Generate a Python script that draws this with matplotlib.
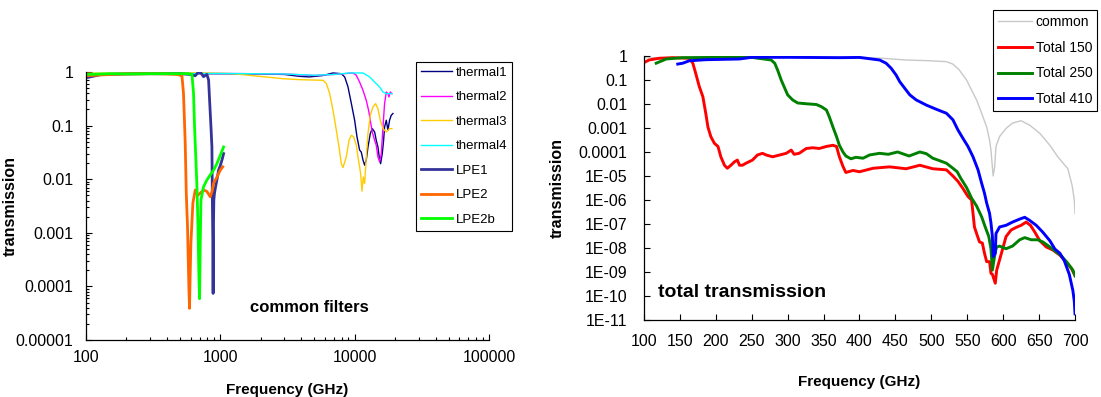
import matplotlib

matplotlib.use("Agg")
import matplotlib.pyplot as plt
from matplotlib.ticker import FixedLocator, LogLocator, NullFormatter, NullLocator

plt.rcParams["font.family"] = ["Liberation Sans", "DejaVu Sans"]

# ---- left panel: common filters (frequency in GHz, transmission) ----
THERMAL1_F = [100, 200, 400, 700, 1000, 2000, 3000, 3900, 4600, 5800, 6900, 7960, 8430, 8920, 9450,
              10000, 10410, 10890, 11210, 11540, 11870, 12210, 12570, 13080, 13530, 14090, 14490,
              14910, 15350, 15610, 16060, 16430, 16710, 17200, 17700, 18200, 18730, 19280]
THERMAL1_T = [0.90, 0.93, 0.93, 0.93, 0.93, 0.92, 0.90, 0.83, 0.81, 0.86, 0.96, 0.93, 0.81, 0.53, 0.26,
              0.126, 0.062, 0.035, 0.032, 0.0228, 0.0183, 0.0228, 0.040, 0.071, 0.088, 0.076, 0.053,
              0.040, 0.0228, 0.0195, 0.030, 0.053, 0.094, 0.126, 0.082, 0.126, 0.156, 0.168]

THERMAL2_F = [100, 300, 1000, 3000, 5000, 7000, 9720, 10290, 10890, 11540, 12210, 12700, 13080,
              13530, 14090, 14490, 14910, 15350, 15790, 16250, 16710, 17200, 17700, 18000, 18420, 18950]
THERMAL2_T = [0.92, 0.93, 0.94, 0.92, 0.86, 0.90, 0.96, 0.87, 0.65, 0.455, 0.296, 0.193, 0.126,
              0.076, 0.053, 0.043, 0.026, 0.0211, 0.030, 0.094, 0.257, 0.424, 0.395, 0.342, 0.424, 0.395]

THERMAL3_F = [100, 300, 700, 1250, 1970, 2930, 3900, 5820, 6160, 6520, 6900, 7310, 7650, 7960, 8190,
              8670, 9080, 9450, 9830, 10290, 10590, 10890, 11080, 11340, 11600, 11870, 12210, 12570,
              13080, 13690, 14330, 14910, 15520, 16250, 17200, 18200, 18950]
THERMAL3_T = [0.95, 0.96, 0.97, 0.93, 0.83, 0.75, 0.72, 0.70, 0.61, 0.395, 0.193, 0.082, 0.040, 0.0195,
              0.0165, 0.026, 0.053, 0.066, 0.062, 0.043, 0.026, 0.017, 0.0128, 0.0060, 0.011, 0.0083,
              0.026, 0.071, 0.156, 0.223, 0.257, 0.207, 0.126, 0.088, 0.076, 0.088, 0.088]

THERMAL4_F = [100, 300, 1000, 3000, 5000, 7000, 9180, 11540, 12930, 14090, 15350, 16250, 17200,
              18200, 18950]
THERMAL4_T = [0.93, 0.94, 0.94, 0.92, 0.87, 0.90, 0.96, 0.96, 0.81, 0.65, 0.526, 0.424, 0.395,
              0.395, 0.395]

LPE1_F = [100, 130, 200, 300, 500, 600, 650, 689, 720, 750, 795, 818, 832, 852, 866, 872, 880,
          884, 889, 895, 905, 922, 945, 971, 1000, 1030, 1058]
LPE1_T = [0.78, 0.90, 0.92, 0.93, 0.93, 0.90, 0.85, 1.0, 0.95, 0.82, 0.90, 0.71, 0.30, 0.095,
          0.040, 0.0054, 6.4e-4, 7.4e-5, 1.3e-3, 4.1e-3, 5.5e-3, 0.0072, 0.010, 0.0148, 0.018,
          0.023, 0.030]

LPE2_F = [100, 150, 200, 300, 400, 480, 518, 532, 548, 558, 570, 584, 590, 596, 604, 625, 651,
          680, 709, 750, 795, 842, 870, 892, 945, 1000, 1043]
LPE2_T = [0.85, 0.90, 0.92, 0.93, 0.92, 0.90, 0.85, 0.40, 0.047, 0.0054, 1.3e-3, 8.6e-5, 3.9e-5,
          1.5e-4, 6.4e-4, 3.6e-3, 6.3e-3, 5.0e-3, 5.5e-3, 6.3e-3, 5.9e-3, 4.7e-3, 6.0e-3, 8.5e-3,
          0.011, 0.0148, 0.017]

LPE2B_F = [100, 150, 200, 300, 400, 500, 580, 615, 632, 643, 658, 670, 682, 693, 701, 709, 718,
           750, 795, 842, 892, 945, 1000, 1058]
LPE2B_T = [0.90, 0.93, 0.92, 0.93, 0.93, 0.93, 0.93, 0.90, 0.40, 0.095, 0.023, 0.0072, 1.3e-3,
           1.5e-4, 5.9e-5, 6.4e-4, 4.1e-3, 0.0072, 0.0097, 0.012, 0.0148, 0.0197, 0.028, 0.040]

LEFT_YTICKS = [1, 0.1, 0.01, 0.001, 0.0001, 0.00001]
LEFT_YTICK_LABELS = ["1", "0.1", "0.01", "0.001", "0.0001", "0.00001"]
LEFT_XTICKS = [100, 1000, 10000, 100000]
LEFT_XTICK_LABELS = ["100", "1000", "10000", "100000"]

# ---- right panel: total transmission ----
COMMON_F = [100, 200, 300, 400, 432, 465, 493, 521, 530, 539, 549, 556, 563, 570, 577, 581, 583,
            586, 588, 590, 595, 604, 613, 625, 637, 651, 665, 676, 690, 696, 699, 700]
COMMON_T = [0.85, 0.88, 0.90, 0.88, 0.80, 0.68, 0.64, 0.58, 0.46, 0.26, 0.10, 0.038, 0.0147,
            4.1e-3, 1.1e-3, 3.2e-4, 1.2e-4, 1.0e-5, 2.2e-5, 1.7e-4, 4.4e-4, 9.6e-4, 1.6e-3, 2.0e-3,
            1.3e-3, 6.0e-4, 1.9e-4, 6.3e-5, 2.0e-5, 4.0e-6, 1.0e-6, 2.7e-7]

TOTAL150_F = [100, 107, 121, 140, 163, 168, 172, 177, 182, 186, 189, 193, 198, 203, 207, 212, 216,
              221, 226, 230, 233, 237, 242, 251, 258, 265, 270, 279, 289, 298, 305, 309, 316, 326,
              335, 344, 354, 363, 368, 372, 377, 381, 391, 400, 419, 442, 465, 484, 502, 521, 530,
              537, 544, 551, 556, 558, 560, 563, 567, 571, 574, 577, 581, 583, 585, 589, 591, 595,
              600, 604, 611, 618, 625, 632, 638, 644, 651, 660, 669, 679, 688, 695, 700]
TOTAL150_T = [0.53, 0.68, 0.80, 0.85, 0.80, 0.50, 0.19, 0.053, 0.020, 4.1e-3, 1.1e-3, 4.4e-4,
              2.3e-4, 1.7e-4, 6.3e-5, 2.8e-5, 2.1e-5, 2.8e-5, 3.9e-5, 4.6e-5, 2.8e-5, 2.8e-5,
              3.4e-5, 4.6e-5, 7.5e-5, 8.8e-5, 7.5e-5, 6.3e-5, 7.5e-5, 8.8e-5, 1.2e-4, 8.0e-5,
              8.8e-5, 1.4e-4, 1.5e-4, 1.4e-4, 1.7e-4, 1.9e-4, 1.7e-4, 6.3e-5, 2.5e-5, 1.4e-5,
              1.7e-5, 1.5e-5, 2.1e-5, 2.4e-5, 2.0e-5, 2.8e-5, 2.0e-5, 1.8e-5, 1.0e-5, 6.0e-6,
              3.0e-6, 1.4e-6, 1.0e-6, 2.8e-7, 7.5e-8, 4.0e-8, 1.8e-8, 1.6e-8, 6.0e-9, 2.7e-9,
              2.7e-9, 8.8e-10, 8.0e-10, 3.4e-10, 1.2e-9, 3.2e-9, 1.1e-8, 3.0e-8, 5.6e-8, 7.2e-8,
              8.8e-8, 1.2e-7, 8.8e-8, 4.6e-8, 2.0e-8, 1.1e-8, 8.3e-9, 5.0e-9, 2.5e-9, 1.4e-9, 7.0e-10]

TOTAL250_F = [117, 131, 154, 200, 247, 277, 282, 286, 291, 296, 300, 307, 314, 326, 340, 347, 354,
              358, 363, 368, 372, 377, 381, 388, 395, 405, 414, 428, 440, 453, 465, 469, 484, 493,
              502, 511, 521, 530, 536, 541, 549, 556, 563, 570, 575, 580, 583, 585, 589, 591, 595,
              604, 613, 623, 630, 639, 648, 655, 665, 674, 680, 689, 697, 700]
TOTAL250_T = [0.50, 0.75, 0.85, 0.87, 0.90, 0.68, 0.50, 0.26, 0.10, 0.045, 0.024, 0.0147, 0.011,
              0.0102, 0.0095, 7.7e-3, 5.6e-3, 2.9e-3, 1.1e-3, 4.4e-4, 1.9e-4, 1.0e-4, 6.8e-5,
              5.2e-5, 6.0e-5, 5.5e-5, 7.5e-5, 8.8e-5, 8.0e-5, 1.0e-4, 7.5e-5, 6.8e-5, 1.0e-4,
              8.5e-5, 5.5e-5, 4.4e-5, 3.4e-5, 2.1e-5, 1.5e-5, 8.0e-6, 3.3e-6, 1.2e-6, 5.6e-7,
              2.0e-7, 7.5e-8, 3.0e-8, 9.3e-9, 1.2e-9, 7.0e-9, 1.1e-8, 1.2e-8, 9.3e-9, 1.2e-8,
              2.2e-8, 2.7e-8, 2.2e-8, 2.2e-8, 1.8e-8, 1.1e-8, 6.8e-9, 5.0e-9, 2.5e-9, 1.2e-9, 7.0e-10]

TOTAL410_F = [147, 154, 163, 186, 233, 250, 300, 372, 400, 428, 437, 444, 451, 456, 463, 470, 479,
              493, 507, 521, 530, 537, 544, 551, 558, 565, 570, 574, 577, 581, 583, 585, 586, 589,
              590, 595, 604, 613, 623, 630, 637, 646, 655, 665, 672, 679, 685, 692, 697, 699, 700]
TOTAL410_T = [0.46, 0.50, 0.63, 0.70, 0.75, 0.88, 0.88, 0.85, 0.87, 0.68, 0.50, 0.31, 0.16, 0.085,
              0.045, 0.024, 0.0147, 9.0e-3, 6.0e-3, 4.1e-3, 2.2e-3, 8.3e-4, 3.7e-4, 1.7e-4, 6.3e-5,
              1.8e-5, 5.0e-6, 1.9e-6, 7.5e-7, 2.8e-7, 1.1e-7, 3.0e-8, 4.4e-9, 6.0e-9, 4.0e-8,
              7.5e-8, 8.8e-8, 1.2e-7, 1.6e-7, 1.9e-7, 1.4e-7, 8.8e-8, 4.6e-8, 2.0e-8, 9.0e-9,
              6.0e-9, 3.0e-9, 8.0e-10, 1.7e-10, 6.0e-11, 1.8e-11]

RIGHT_XTICKS = [100, 150, 200, 250, 300, 350, 400, 450, 500, 550, 600, 650, 700]
RIGHT_YTICKS = [1, 0.1, 0.01, 0.001, 1e-4, 1e-5, 1e-6, 1e-7, 1e-8, 1e-9, 1e-10, 1e-11]
RIGHT_YTICK_LABELS = ["1", "0.1", "0.01", "0.001", "0.0001", "1E-05", "1E-06", "1E-07",
                      "1E-08", "1E-09", "1E-10", "1E-11"]


def excel_axes(ax):
    for side in ("top", "right"):
        ax.spines[side].set_visible(False)
    for side in ("left", "bottom"):
        ax.spines[side].set_linewidth(0.9)
    ax.tick_params(which="both", direction="in", width=0.8, labelsize=11.5)
    ax.tick_params(which="major", length=4)
    ax.tick_params(which="minor", length=2.5)


def boxed_legend(ax, fig, anchor, fontsize, spacing, handlelength):
    leg = ax.legend(loc="upper left", bbox_to_anchor=anchor, bbox_transform=fig.transFigure,
                    fontsize=fontsize, frameon=True, fancybox=False, framealpha=1,
                    edgecolor="black", borderaxespad=0, borderpad=0.35,
                    labelspacing=spacing, handlelength=handlelength, handletextpad=0.25)
    leg.get_frame().set_linewidth(0.8)
    return leg


def main() -> None:
    fig = plt.figure(figsize=(11.01, 3.97), dpi=100)

    # left panel
    ax_l = fig.add_axes([0.0781, 0.1436, 0.366, 0.675])
    thin, thick = 1.0, 2.0
    ax_l.plot(THERMAL1_F, THERMAL1_T, color="#000080", lw=thin, label="thermal1")
    ax_l.plot(THERMAL2_F, THERMAL2_T, color="#FF00FF", lw=thin, label="thermal2")
    ax_l.plot(THERMAL3_F, THERMAL3_T, color="#FFCC00", lw=thin, label="thermal3")
    ax_l.plot(THERMAL4_F, THERMAL4_T, color="#00FFFF", lw=thin, label="thermal4")
    ax_l.plot(LPE1_F, LPE1_T, color="#333399", lw=thick, label="LPE1")
    ax_l.plot(LPE2_F, LPE2_T, color="#FF6600", lw=thick, label="LPE2")
    ax_l.plot(LPE2B_F, LPE2B_T, color="#00FF00", lw=thick, label="LPE2b")
    ax_l.set_xscale("log")
    ax_l.set_yscale("log")
    ax_l.set_xlim(100, 100000)
    ax_l.set_ylim(1e-5, 1)
    excel_axes(ax_l)
    ax_l.xaxis.set_major_locator(FixedLocator(LEFT_XTICKS))
    ax_l.set_xticklabels(LEFT_XTICK_LABELS)
    ax_l.xaxis.set_minor_locator(LogLocator(base=10, subs=range(2, 10)))
    ax_l.xaxis.set_minor_formatter(NullFormatter())
    ax_l.yaxis.set_major_locator(FixedLocator(LEFT_YTICKS))
    ax_l.set_yticklabels(LEFT_YTICK_LABELS)
    ax_l.yaxis.set_minor_locator(LogLocator(base=10, subs=range(2, 10)))
    ax_l.yaxis.set_minor_formatter(NullFormatter())
    ax_l.tick_params(axis="y", pad=9)
    ax_l.tick_params(axis="x", pad=7)
    ax_l.set_xlabel("Frequency (GHz)", fontsize=11, fontweight="bold")
    ax_l.xaxis.set_label_coords(0.5, -0.16)
    ax_l.set_ylabel("transmission", fontsize=11.5, fontweight="bold")
    ax_l.yaxis.set_label_coords(-0.17, 0.5)
    fig.text(0.227, 0.2254, "common filters", fontsize=12, fontweight="bold", va="center")
    boxed_legend(ax_l, fig, (0.3778, 0.8438), 9.5, 0.93, 2.4)

    # right panel
    ax_r = fig.add_axes([0.5849, 0.194, 0.3915, 0.665])
    ax_r.plot(COMMON_F, COMMON_T, color="#C8C8C8", lw=1.0, label="common")
    ax_r.plot(TOTAL150_F, TOTAL150_T, color="#FF0000", lw=2.1, label="Total 150")
    ax_r.plot(TOTAL250_F, TOTAL250_T, color="#008000", lw=2.1, label="Total 250")
    ax_r.plot(TOTAL410_F, TOTAL410_T, color="#0000FF", lw=2.1, label="Total 410")
    ax_r.set_yscale("log")
    ax_r.set_xlim(100, 700)
    ax_r.set_ylim(1e-11, 1)
    excel_axes(ax_r)
    ax_r.xaxis.set_major_locator(FixedLocator(RIGHT_XTICKS))
    ax_r.yaxis.set_major_locator(FixedLocator(RIGHT_YTICKS))
    ax_r.set_yticklabels(RIGHT_YTICK_LABELS)
    ax_r.yaxis.set_minor_locator(NullLocator())
    ax_r.tick_params(axis="y", pad=12)
    ax_r.tick_params(axis="x", pad=10)
    ax_r.set_xlabel("Frequency (GHz)", fontsize=11, fontweight="bold")
    ax_r.xaxis.set_label_coords(0.5, -0.208)
    ax_r.set_ylabel("transmission", fontsize=11.5, fontweight="bold")
    ax_r.yaxis.set_label_coords(-0.183, 0.5)
    fig.text(0.5977, 0.262, "total transmission", fontsize=14, fontweight="bold", va="center")
    boxed_legend(ax_r, fig, (0.9016, 0.9748), 10, 0.85, 2.5)

    fig.savefig("out.png", dpi=100)
    plt.close(fig)


if __name__ == "__main__":
    main()
